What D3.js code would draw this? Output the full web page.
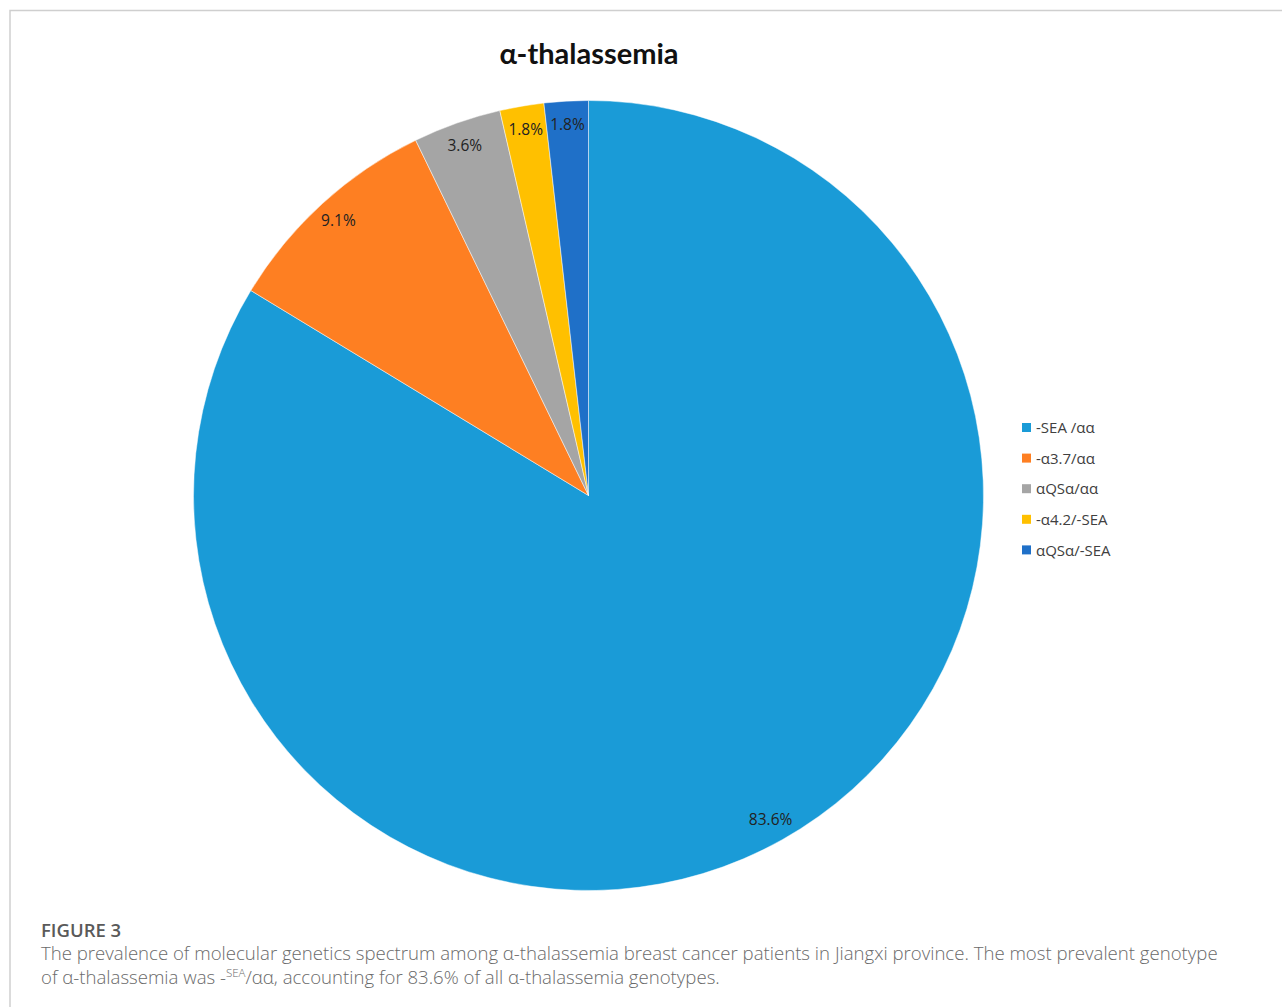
<!DOCTYPE html>
<html>
<head>
<meta charset="utf-8">
<script src="https://cdn.jsdelivr.net/npm/d3@7"></script>
<style>
  body { margin: 0; background: #fff; }
  svg { display: block; }
</style>
</head>
<body>
<svg id="chart"></svg>
<script>
const width = 1282;
const height = 1007;

// genotype categories and their share (%) as printed on the slices
const genotypes = ["-SEA /αα", "-α3.7/αα", "αQSα/αα", "-α4.2/-SEA", "αQSα/-SEA"];
const shares = [83.6, 9.1, 3.6, 1.8, 1.8];
const sliceColors = ["#1a9bd7", "#fe7f22", "#a5a5a5", "#ffc000", "#1f70c8"];

const svg = d3.select("#chart")
  .attr("width", width)
  .attr("height", height);

// light panel frame (top and left edges)
svg.append("path")
  .attr("d", `M10,${height} V10.5 H${width}`)
  .attr("fill", "none")
  .attr("stroke", "#cfcfcf")
  .attr("stroke-width", 1.5);

svg.append("text")
  .attr("x", 589)
  .attr("y", 64)
  .attr("text-anchor", "middle")
  .attr("font-family", "Lato, 'Open Sans', sans-serif")
  .attr("font-weight", "bold")
  .attr("font-size", 29)
  .attr("fill", "#111")
  .text("α-thalassemia");

let data = genotypes.map((g, i) => ({ genotype: g, share: shares[i] }));

let cx = 588.5, cy = 495.5, radius = 395;

let pie = d3.pie()
  .sort(null)
  .value(d => d.share);

let arc = d3.arc().innerRadius(0).outerRadius(radius);
let labelArc = d3.arc().innerRadius(radius * 0.94).outerRadius(radius * 0.94);

let color = d3.scaleOrdinal().domain(genotypes).range(sliceColors);

let g = svg.append("g").attr("transform", `translate(${cx},${cy})`);

let slices = g.selectAll(".slice")
  .data(pie(data))
  .enter()
  .append("g")
  .classed("slice", true);

slices.append("path")
  .attr("d", arc)
  .attr("fill", d => color(d.data.genotype))
  .attr("stroke", "#fff")
  .attr("stroke-opacity", 0.6)
  .attr("stroke-width", 0.8);

slices.append("text")
  .attr("transform", d => `translate(${labelArc.centroid(d)})`)
  .attr("text-anchor", "middle")
  .attr("dy", "0.35em")
  .attr("font-family", "'Open Sans', sans-serif")
  .attr("font-size", 15.5)
  .attr("fill", "#222")
  .text(d => `${d.data.share.toFixed(1)}%`);

// legend
let legend = svg.append("g").attr("transform", "translate(1022,428)");

let items = legend.selectAll(".item")
  .data(genotypes)
  .enter()
  .append("g")
  .classed("item", true)
  .attr("transform", (d, i) => `translate(0,${i * 30.6})`);

items.append("rect")
  .attr("x", 0)
  .attr("y", -5)
  .attr("width", 9)
  .attr("height", 9)
  .attr("fill", d => color(d));

items.append("text")
  .attr("x", 14)
  .attr("y", 0)
  .attr("dy", "0.35em")
  .attr("font-family", "'Open Sans', sans-serif")
  .attr("font-size", 15)
  .attr("fill", "#404040")
  .text(d => d);

// figure caption
let caption = svg.append("g")
  .attr("font-family", "'Open Sans', Lato, sans-serif")
  .attr("fill", "#6a6a6a");

caption.append("text")
  .attr("x", 41)
  .attr("y", 937)
  .attr("font-size", 18.5)
  .attr("font-weight", 600)
  .attr("fill", "#5a5a5a")
  .text("FIGURE 3");

caption.append("text")
  .attr("x", 41)
  .attr("y", 960)
  .attr("font-size", 18.6)
  .attr("font-weight", 300)
  .text("The prevalence of molecular genetics spectrum among α-thalassemia breast cancer patients in Jiangxi province. The most prevalent genotype");

let line2 = caption.append("text")
  .attr("x", 41)
  .attr("y", 984)
  .attr("font-size", 18.6)
  .attr("font-weight", 300);

line2.append("tspan").text("of α-thalassemia was -");
line2.append("tspan").attr("font-size", 11.5).attr("dy", -7).text("SEA");
line2.append("tspan").attr("dy", 7).text("/αα, accounting for 83.6% of all α-thalassemia genotypes.");
</script>
</body>
</html>
